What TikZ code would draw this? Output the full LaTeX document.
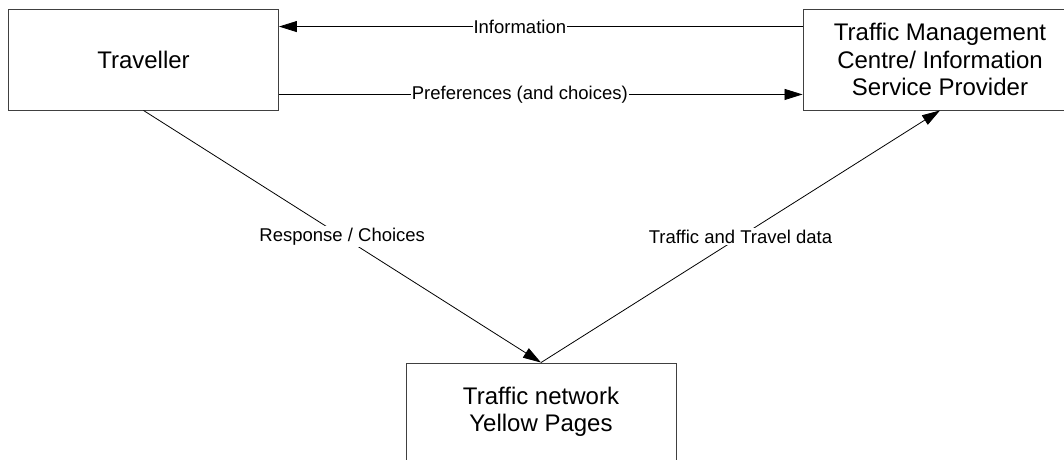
\documentclass[tikz,border=0pt]{standalone}
\usepackage{fontspec}
\setmainfont{Liberation Sans}
\usetikzlibrary{arrows.meta}
\begin{document}
\begin{tikzpicture}[x=1pt,y=-1pt,
 box/.style={draw=black!75, line width=0.9pt, minimum width=270pt, minimum height=100.5pt, align=center, font=\fontsize{24}{27.5}\selectfont, inner sep=0pt},
 conn/.style={line width=0.8pt, -{Triangle[length=18pt,width=11pt]}},
 lbl/.style={fill=white, inner sep=2pt, font=\fontsize{18.5}{21}\selectfont}]
\useasboundingbox (0,0) rectangle (1064,459);
\clip (0,0) rectangle (1064,459);
\node[box] (trav) at (143.5,59.75) {Traveller};
\node[box, minimum width=274pt] (tmc) at (940,59.75) {Traffic Management\\Centre/ Information\\Service Provider};
\node[box, minimum height=98pt] (ypg) at (541,412) {Traffic network\\Yellow Pages};
\draw[conn] ([yshift=-17.5pt]tmc.north west) -- node[lbl, pos=0.54, inner sep=1pt] (l1) {Information} ([yshift=-17.5pt]trav.north east);
\draw[conn] ([yshift=16pt]trav.south east) -- node[lbl, pos=0.46, inner sep=1pt] (l2) {Preferences (and choices)} ([yshift=16pt]tmc.south west);
\draw[conn] (trav.south) -- node[lbl] (l3) {Response / Choices} (ypg.north);
\draw[conn] (ypg.north) -- node[lbl] (l4) {Traffic and Travel data} (tmc.south);
\end{tikzpicture}
\end{document}
